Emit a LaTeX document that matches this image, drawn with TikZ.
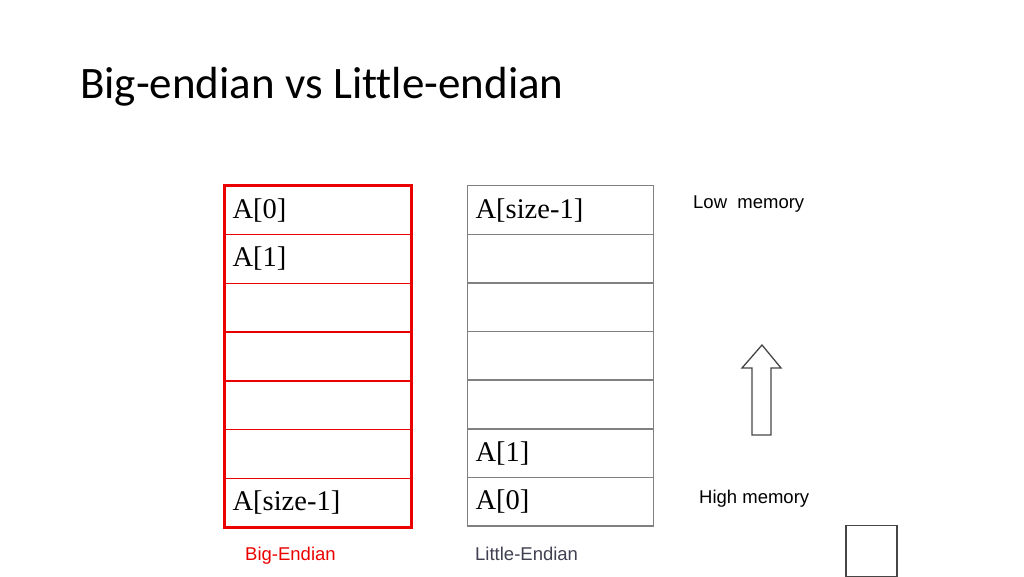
\documentclass[tikz,border=0pt]{standalone}
\usepackage{fontspec}
\setmainfont{Liberation Serif}
\newfontfamily\titlefont[Ligatures=NoCommon]{Carlito}
\newfontfamily\labelfont{Liberation Sans}
\usetikzlibrary{shapes, arrows}
\definecolor{cellgray}{RGB}{128,128,128}
\definecolor{bigred}{RGB}{235,0,0}
\definecolor{littlegray}{RGB}{64,64,80}
\definecolor{boxgray}{RGB}{70,70,70}

\tikzset{
	cell/.style={draw, line width=1.3pt, minimum width=186pt, minimum height=48.8pt, anchor=north west, text width=170pt, inner xsep=8pt, align=left, font=\fontsize{28.5}{30}\selectfont},
	bigcell/.style={cell, draw=bigred},
	littlecell/.style={cell, draw=cellgray},
	memlabel/.style={anchor=base west, inner sep=0pt, font=\labelfont\fontsize{18.5}{20}\selectfont},
}

\begin{document}
\begin{tikzpicture}[x=1pt, y=-1pt]
	\useasboundingbox (0,0) rectangle (1024,576);
	\node[anchor=base west, inner sep=0pt, font=\titlefont\fontsize{45}{52}\selectfont] (title) at (80,98) {Big-endian vs Little-endian};
	% big-endian column
	\foreach \i/\txt in {0/A[0],1/A[1],2/,3/,4/,5/,6/A[size-1]}
		\node[bigcell] (b\i) at (224,{185+\i*48.8}) {\txt};
	\draw[bigred, line width=3pt] (b0.north west) rectangle (b6.south east);
	% little-endian column
	\foreach \i/\txt in {0/A[size-1],1/,2/,3/,4/,5/A[1],6/A[0]}
		\node[littlecell] (l\i) at (467,{185+\i*48.6}) {\txt};
	\node[memlabel] (low) at (693,208.5) {Low\ \ memory};
	\node[memlabel] (high) at (699,503) {High memory};
	\node[memlabel, text=bigred] (bigname) at (245,560.5) {Big-Endian};
	\node[memlabel, text=littlegray] (littlename) at (475,560.5) {Little-Endian};
	\draw[boxgray, line width=1.3pt] (752,435) -- (752,368) -- (742,368) -- (762,345) -- (781,368) -- (771,368) -- (771,435) -- cycle;
	\node[draw=boxgray, line width=1.5pt, minimum size=51pt, anchor=north west] (box) at (845,524.5) {};
\end{tikzpicture}
\end{document}
